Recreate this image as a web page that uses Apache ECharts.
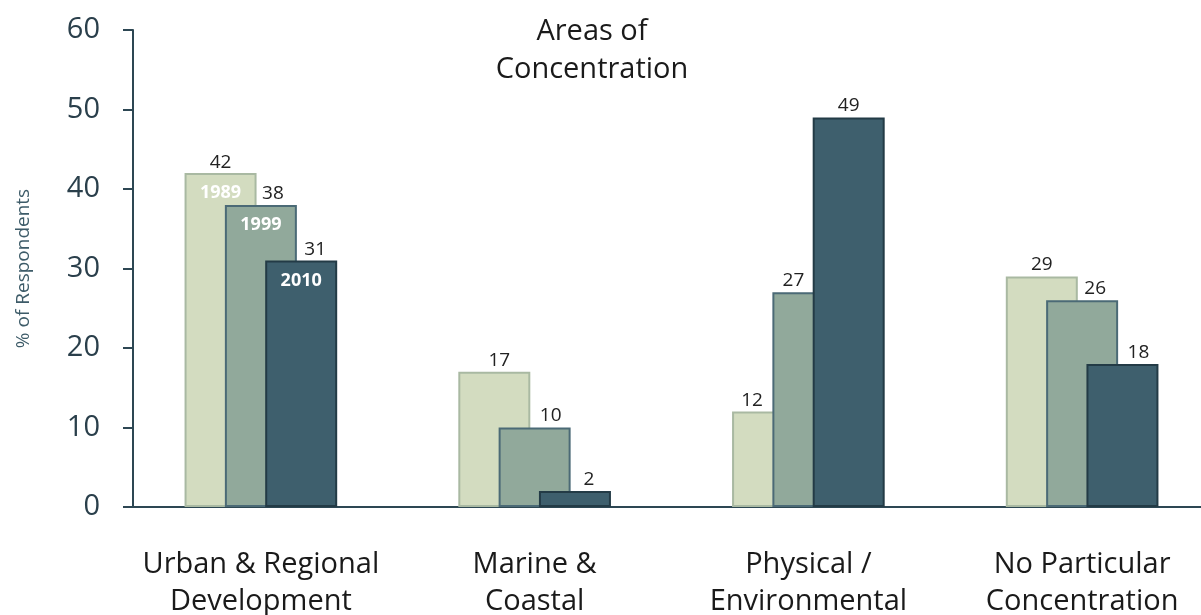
<!DOCTYPE html>
<html>
<head>
<meta charset="utf-8">
<script src="https://cdn.jsdelivr.net/npm/echarts@6/dist/echarts.min.js"></script>
<style>
  html, body { margin: 0; padding: 0; background: #fff; }
  #main { width: 1201px; height: 615px; }
</style>
</head>
<body>
<div id="main"></div>
<script>
var categories = ['Urban & Regional\nDevelopment', 'Marine &\nCoastal', 'Physical /\nEnvironmental', 'No Particular\nConcentration'];
var years = ['1989', '1999', '2010'];
var v1989 = [42, 17, 12, 29];
var v1999 = [38, 10, 27, 26];
var v2010 = [31, 2, 49, 18];
var yTicks = [0, 10, 20, 30, 40, 50, 60];

var chartDom = document.getElementById('main');
var myChart = echarts.init(chartDom);
var font = 'Open Sans';

// fills / borders per year
var fills = ['#d3dcc0', '#91a99b', '#3e5f6d'];
var borders = ['#a9b9a2', '#4b6a76', '#233b46'];
// sideways nudge of the value labels, the way the original has them
var nudges = [[0, 5, -16, 0], [12, 16, -15, 13], [14, 14, 0, 16]];

function makeSeries(k, values) {
    var data = values.map(function (v, i) {
        var item = { value: v };
        if (i === 0) {
            var pad = nudges[k][i] * 2;
            item.label = {
                position: 'top',
                distance: 0,
                offset: [0, 41],
                formatter: '{v|' + v + '}\n{y|' + years[k] + '}',
                rich: {
                    v: { fontFamily: font, fontSize: 19, color: '#222', lineHeight: 20, padding: [0, 0, 0, pad] },
                    y: { fontFamily: font, fontSize: 18, fontWeight: 'bold', color: '#fff', lineHeight: 42 }
                }
            };
        } else {
            item.label = { offset: [nudges[k][i], 0] };
        }
        return item;
    });
    return {
        name: years[k],
        type: 'bar',
        barWidth: 72,
        barGap: '-44%',
        itemStyle: { color: fills[k], borderColor: borders[k], borderWidth: 2 },
        label: {
            show: true,
            position: 'top',
            distance: 2,
            fontFamily: font,
            fontSize: 19,
            color: '#222'
        },
        emphasis: { disabled: true },
        data: data
    };
}

var option = {
    animation: false,
    title: {
        text: 'Areas of\nConcentration',
        left: 587,
        top: 8,
        textAlign: 'center',
        textStyle: { fontFamily: font, fontSize: 29, fontWeight: 'normal', color: '#1a1a1a', lineHeight: 38 }
    },
    grid: { left: 124, width: 1095, top: 30, bottom: 108, outerBoundsMode: 'none' },
    xAxis: {
        type: 'category',
        data: categories,
        axisLine: { lineStyle: { color: '#2d4753', width: 2 } },
        axisTick: { show: false },
        axisLabel: {
            interval: 0,
            margin: 39,
            fontFamily: font,
            fontSize: 29,
            lineHeight: 37,
            color: '#1a1a1a'
        }
    },
    yAxis: {
        type: 'value',
        min: yTicks[0],
        max: yTicks[yTicks.length - 1],
        interval: 10,
        offset: -9,
        name: '% of Respondents',
        nameLocation: 'middle',
        nameGap: 100,
        nameTextStyle: { fontFamily: font, fontSize: 19, color: '#3d5b68' },
        axisLine: { show: true, lineStyle: { color: '#2d4753', width: 2 } },
        axisTick: { show: true, length: 10, lineStyle: { color: '#2d4753', width: 2 } },
        splitLine: { show: false },
        axisLabel: { margin: 33, fontFamily: font, fontSize: 29, color: '#2a3f4b' }
    },
    series: [makeSeries(0, v1989), makeSeries(1, v1999), makeSeries(2, v2010)]
};

myChart.setOption(option);
</script>
</body>
</html>
